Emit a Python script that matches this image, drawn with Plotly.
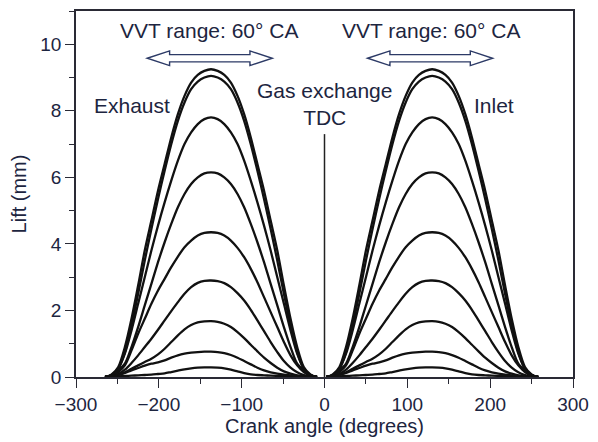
import plotly.graph_objects as go

# ---- data ----
offsets = list(range(-128, 129, 8))          # crank angle relative to cam-peak (deg)
exhaust_centre = -137                         # deg
inlet_centre = 130                            # deg

lift_a = [0, 0.08, 0.3, 0.9, 1.75, 2.75, 3.8, 4.7, 5.6, 6.4, 7.2, 7.9, 8.45, 8.85, 9.08, 9.2, 9.25,
          9.2, 9.08, 8.85, 8.45, 7.9, 7.2, 6.4, 5.6, 4.7, 3.8, 2.75, 1.75, 0.9, 0.3, 0.08, 0]
lift_b = [0, 0.06, 0.25, 0.75, 1.55, 2.5, 3.5, 4.45, 5.35, 6.2, 7.0, 7.7, 8.25, 8.65, 8.88, 9.0, 9.05,
          9.0, 8.88, 8.65, 8.25, 7.7, 7.0, 6.2, 5.35, 4.45, 3.5, 2.5, 1.55, 0.75, 0.25, 0.06, 0]
lift_c = [0, 0.05, 0.25, 0.7, 1.4, 2.2, 3.0, 3.8, 4.55, 5.25, 5.9, 6.5, 7.0, 7.35, 7.6, 7.75, 7.8,
          7.75, 7.6, 7.35, 7.0, 6.5, 5.9, 5.25, 4.55, 3.8, 3.0, 2.2, 1.4, 0.7, 0.25, 0.05, 0]
lift_d = [0, 0.05, 0.2, 0.4, 0.9, 1.5, 2.15, 2.8, 3.45, 4.05, 4.6, 5.1, 5.5, 5.8, 6.0, 6.12, 6.15,
          6.12, 6.0, 5.8, 5.5, 5.1, 4.6, 4.05, 3.45, 2.8, 2.15, 1.5, 0.9, 0.4, 0.2, 0.05, 0]
lift_e = [0, 0.03, 0.15, 0.35, 0.8, 1.3, 1.75, 2.2, 2.6, 2.95, 3.3, 3.62, 3.9, 4.1, 4.25, 4.33, 4.35,
          4.33, 4.25, 4.1, 3.88, 3.6, 3.25, 2.85, 2.4, 1.95, 1.5, 1.05, 0.65, 0.35, 0.15, 0.04, 0]
lift_f = [0, 0.02, 0.09, 0.22, 0.42, 0.65, 0.9, 1.15, 1.42, 1.7, 1.98, 2.25, 2.5, 2.7, 2.83, 2.89, 2.9,
          2.88, 2.82, 2.7, 2.52, 2.3, 2.02, 1.7, 1.38, 1.05, 0.75, 0.48, 0.28, 0.14, 0.06, 0.02, 0]
lift_g = [0, 0.02, 0.06, 0.14, 0.25, 0.35, 0.45, 0.55, 0.68, 0.85, 1.05, 1.25, 1.43, 1.56, 1.64, 1.67, 1.68,
          1.66, 1.6, 1.5, 1.35, 1.17, 0.97, 0.77, 0.58, 0.42, 0.28, 0.17, 0.1, 0.05, 0.03, 0.01, 0]
lift_h = [0, 0.02, 0.06, 0.12, 0.2, 0.27, 0.34, 0.4, 0.44, 0.5, 0.58, 0.65, 0.7, 0.73, 0.75, 0.76, 0.76,
          0.75, 0.72, 0.66, 0.58, 0.48, 0.38, 0.28, 0.2, 0.14, 0.1, 0.07, 0.05, 0.03, 0.02, 0.01, 0]
lift_i = [0, 0.01, 0.02, 0.03, 0.04, 0.05, 0.06, 0.07, 0.09, 0.11, 0.15, 0.19, 0.23, 0.26, 0.28, 0.29, 0.29,
          0.28, 0.26, 0.22, 0.17, 0.12, 0.08, 0.06, 0.05, 0.04, 0.035, 0.03, 0.025, 0.02, 0.015, 0.01, 0]
lift_profiles = [lift_a, lift_b, lift_c, lift_d, lift_e, lift_f, lift_g, lift_h, lift_i]

x_ticks = [-300, -200, -100, 0, 100, 200, 300]
y_ticks = [0, 2, 4, 6, 8, 10]
vvt_label = "VVT range: 60° CA"
vvt_arrow_exhaust = (-214, -63)
vvt_arrow_inlet = (52, 203)
tdc_top = 7.3

# ---- style ----
FONT = "Liberation Sans, Arial, Helvetica, sans-serif"
TXT = "#1d2540"
AX = "#2a2a35"

fig = go.Figure()
for centre in (exhaust_centre, inlet_centre):
    xs = [centre + o for o in offsets]
    for lifts in lift_profiles:
        fig.add_trace(go.Scatter(
            x=xs, y=lifts, mode="lines",
            line=dict(color="#111111", width=2.3, shape="spline", smoothing=0.8),
            showlegend=False, hoverinfo="skip", cliponaxis=True))

# TDC line
fig.add_shape(type="line", xref="x", yref="y", x0=0, x1=0, y0=0, y1=tdc_top,
              line=dict(color="#222", width=1.5))

# hollow double arrows
def double_arrow(x0, x1, yc):
    sh, hh, hl = 0.11, 0.22, 27  # shaft half-height, head half-height (mm), head length (deg)
    pts = [(x0, yc), (x0 + hl, yc + hh), (x0 + hl, yc + sh), (x1 - hl, yc + sh), (x1 - hl, yc + hh),
           (x1, yc), (x1 - hl, yc - hh), (x1 - hl, yc - sh), (x0 + hl, yc - sh), (x0 + hl, yc - hh)]
    return "M " + " L ".join(f"{px},{py}" for px, py in pts) + " Z"

for a0, a1 in (vvt_arrow_exhaust, vvt_arrow_inlet):
    fig.add_shape(type="path", xref="x", yref="y", path=double_arrow(a0, a1, 9.58),
                  fillcolor="white", line=dict(color="#2c3a66", width=1.4))

ann_font = dict(family=FONT, size=21, color=TXT)
fig.add_annotation(x=-139, y=10.42, text=vvt_label, showarrow=False, font=ann_font)
fig.add_annotation(x=129, y=10.42, text=vvt_label, showarrow=False, font=ann_font)
fig.add_annotation(x=-233, y=8.16, text="Exhaust", showarrow=False, font=ann_font)
fig.add_annotation(x=205, y=8.16, text="Inlet", showarrow=False, font=ann_font)
fig.add_annotation(x=0, y=8.22, text="Gas exchange<br>TDC", showarrow=False, font=ann_font,
                   align="center")

fig.update_layout(
    width=598, height=442,
    margin=dict(l=76, r=16, t=9, b=65),
    paper_bgcolor="white", plot_bgcolor="white",
    font=dict(family=FONT, color=TXT, size=19),
    xaxis=dict(range=[-300, 300], tickvals=x_ticks,
               ticktext=[str(v).replace("-", "−") for v in x_ticks],
               ticks="outside", ticklen=9, tickwidth=1.3, tickcolor=AX,
               minor=dict(dtick=50, tick0=0, ticks="outside", ticklen=5, tickwidth=1.2, tickcolor=AX),
               showline=True, linecolor=AX, linewidth=1.5, mirror=True,
               showgrid=False, zeroline=False,
               title=dict(text="Crank angle (degrees)", font=dict(size=20), standoff=4),
               tickfont=dict(size=19)),
    yaxis=dict(range=[0, 11], tickvals=y_ticks,
               ticks="outside", ticklen=9, tickwidth=1.3, tickcolor=AX,
               minor=dict(dtick=1, tick0=0, ticks="outside", ticklen=5, tickwidth=1.2, tickcolor=AX),
               showline=True, linecolor=AX, linewidth=1.5, mirror=True,
               showgrid=False, zeroline=False,
               title=dict(text="Lift (mm)", font=dict(size=20), standoff=8),
               tickfont=dict(size=19)),
)

fig.write_html("out.html")
